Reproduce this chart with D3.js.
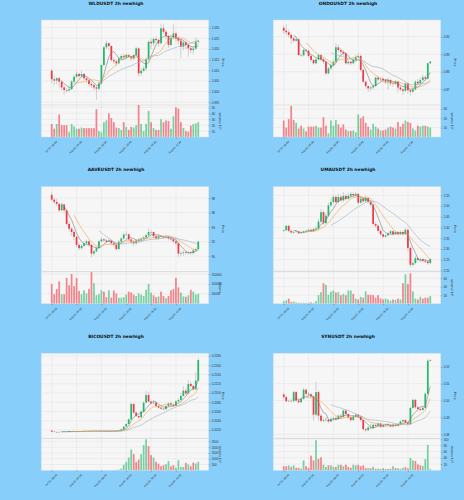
<!DOCTYPE html>
<html>
<head>
<meta charset="utf-8">
<script src="https://cdn.jsdelivr.net/npm/d3@7"></script>
<style>
  body { margin: 0; background: #87cefa; }
  svg { display: block; font-family: "DejaVu Sans", sans-serif; }
</style>
</head>
<body>
<div id="chart"></div>
<script>
// 2h candles, open of each candle = close of the one before
var xLabels = ["Jul 31, 08:00", "Aug 01, 04:00", "Aug 02, 00:00", "Aug 02, 20:00", "Aug 03, 16:00", "Aug 04, 12:00"];
var xTickIdx = [0, 10, 20, 30, 40, 50];

// WLDUSDT
var wldOpen0 = 1.0098;
var wldClose = [1.0058,1.0052,1.0063,1.0047,1.0020,1.0008,1.0005,1.0011,1.0047,1.0070,
  1.0083,1.0073,1.0083,1.0063,1.0055,1.0036,1.0030,1.0020,1.0014,1.0039,
  1.0125,1.0208,1.0227,1.0214,1.0148,1.0142,1.0133,1.0155,1.0167,1.0161,
  1.0172,1.0164,1.0156,1.0172,1.0203,1.0086,1.0098,1.0109,1.0152,1.0234,
  1.0227,1.0247,1.0242,1.0227,1.0297,1.0281,1.0261,1.0219,1.0253,1.0273,
  1.0250,1.0239,1.0211,1.0231,1.0219,1.0203,1.0195,1.0202,1.0234,1.0239];
var wldHigh = [1.0108,1.0075,1.0068,1.0070,1.0055,1.0028,1.0015,1.0030,1.0055,1.0078,
  1.0095,1.0090,1.0098,1.0088,1.0070,1.0060,1.0045,1.0038,1.0030,1.0045,
  1.0130,1.0215,1.0240,1.0232,1.0218,1.0160,1.0150,1.0162,1.0175,1.0178,
  1.0180,1.0178,1.0170,1.0178,1.0212,1.0208,1.0110,1.0120,1.0160,1.0240,
  1.0248,1.0255,1.0258,1.0250,1.0318,1.0315,1.0290,1.0268,1.0262,1.0315,
  1.0282,1.0260,1.0248,1.0240,1.0238,1.0225,1.0212,1.0210,1.0255,1.0245];
var wldLow = [1.0040,1.0030,1.0035,1.0015,1.0005,0.9985,0.9995,1.0000,1.0008,1.0040,
  1.0062,1.0065,1.0068,1.0055,1.0040,1.0025,1.0018,1.0005,0.9962,1.0005,
  1.0030,1.0118,1.0200,1.0195,1.0140,1.0130,1.0120,1.0128,1.0150,1.0150,
  1.0155,1.0158,1.0145,1.0150,1.0165,1.0070,1.0075,1.0090,1.0100,1.0145,
  1.0200,1.0215,1.0225,1.0210,1.0220,1.0270,1.0245,1.0205,1.0212,1.0245,
  1.0235,1.0220,1.0158,1.0195,1.0200,1.0165,1.0180,1.0175,1.0195,1.0228];
var wldVol = [22,14,22,38,20,20,20,8,22,18,14,14,16,15,15,15,15,15,47,10,
  8,25,28,40,32,25,16,15,12,25,17,12,17,16,20,54,22,10,22,44,
  25,15,12,12,30,25,28,27,14,35,50,48,25,15,10,9,19,22,23,25];

// ONDOUSDT
var ondoOpen0 = 0.9050;
var ondoClose = [0.9034,0.9025,0.9010,0.8990,0.8977,0.8985,0.8895,0.8893,0.8924,0.8920,
  0.8890,0.8867,0.8848,0.8870,0.8895,0.8870,0.8857,0.8790,0.8819,0.8838,
  0.8857,0.8939,0.8924,0.8914,0.8905,0.8848,0.8857,0.8848,0.8867,0.8882,
  0.8890,0.8810,0.8743,0.8718,0.8705,0.8710,0.8718,0.8766,0.8756,0.8760,
  0.8752,0.8743,0.8752,0.8733,0.8730,0.8743,0.8710,0.8699,0.8691,0.8733,
  0.8695,0.8686,0.8699,0.8743,0.8733,0.8752,0.8768,0.8760,0.8848,0.8857];
var ondoHigh = [0.9062,0.9070,0.9040,0.9020,0.9000,0.8995,0.8990,0.8905,0.8930,0.8930,
  0.8925,0.8895,0.8875,0.8878,0.8902,0.8900,0.8878,0.8862,0.8825,0.8848,
  0.8868,0.8962,0.8955,0.8935,0.8925,0.8910,0.8865,0.8862,0.8875,0.8895,
  0.8905,0.8898,0.8815,0.8748,0.8722,0.8720,0.8730,0.8772,0.8775,0.8770,
  0.8768,0.8760,0.8765,0.8760,0.8745,0.8752,0.8748,0.8718,0.8705,0.8740,
  0.8738,0.8700,0.8710,0.8752,0.8760,0.8770,0.8785,0.8778,0.8852,0.8862];
var ondoLow = [0.9015,0.9010,0.8995,0.8960,0.8965,0.8970,0.8890,0.8885,0.8888,0.8905,
  0.8880,0.8855,0.8840,0.8842,0.8865,0.8860,0.8845,0.8780,0.8785,0.8810,
  0.8830,0.8850,0.8910,0.8900,0.8890,0.8840,0.8840,0.8838,0.8842,0.8860,
  0.8875,0.8800,0.8735,0.8705,0.8685,0.8690,0.8700,0.8712,0.8745,0.8745,
  0.8740,0.8730,0.8700,0.8720,0.8715,0.8722,0.8680,0.8690,0.8670,0.8685,
  0.8675,0.8665,0.8680,0.8692,0.8720,0.8728,0.8745,0.8748,0.8755,0.8845];
var ondoVol = [17.5,10,19,33,18,15,9,12,9,6,11,11,11,12,10,10,21,12,4,17.5,
  12,18,13.5,10,13.5,8,6.5,6.5,7,5,24,20,22,15,11,8,14,11,9,7,
  7,8,10,11,10,9,16,11,14,17.5,16,15,9,7,12,11,12,12,11,10];

// AAVEUSDT
var aaveOpen0 = 98.44;
var aaveClose = [97.78,97.47,97.20,96.31,97.11,96.31,94.44,93.78,93.33,92.67,
  91.56,91.11,91.42,91.78,92.04,91.56,90.36,90.67,91.11,92.04,
  92.31,92.18,92.00,92.13,91.78,91.56,90.98,92.00,92.44,92.98,
  93.02,92.31,92.00,91.78,92.13,92.31,92.44,92.58,92.89,93.33,
  93.33,92.76,92.44,92.76,92.67,92.58,92.67,92.44,92.31,92.04,
  91.78,90.36,90.44,90.53,90.44,90.53,90.44,90.80,90.98,92.00];
var aaveHigh = [98.80,98.10,97.90,97.40,97.30,97.20,96.40,94.80,94.00,93.60,
  92.80,91.80,91.70,92.00,92.30,92.20,91.70,90.90,91.30,92.20,
  92.60,92.50,92.40,92.40,92.30,91.90,91.70,92.20,92.60,93.20,
  93.40,93.10,92.40,92.10,92.30,92.50,92.60,92.80,93.10,93.80,
  93.60,93.40,92.90,93.00,92.90,92.80,92.90,92.80,92.60,92.40,
  92.20,91.90,90.70,90.80,90.70,90.70,90.70,91.00,91.20,92.10];
var aaveLow = [97.60,97.20,96.90,96.10,96.20,96.00,94.20,93.40,92.80,92.20,
  91.20,90.80,90.90,91.20,91.60,91.30,89.80,90.10,90.50,91.00,
  91.90,92.00,91.80,91.90,91.60,91.30,90.80,90.90,91.80,92.30,
  92.80,92.10,91.60,91.40,91.60,92.00,92.20,92.30,92.40,92.70,
  93.00,92.50,92.20,92.30,92.50,92.40,92.40,92.20,92.10,91.80,
  91.50,89.90,90.00,90.10,90.20,90.20,90.20,90.20,90.60,90.90];
var aaveVol = [100000,48000,74000,113000,48000,48000,131000,94000,150000,89000,
  131000,65000,48000,68000,52000,74000,160000,104000,43000,48000,
  68000,61000,33000,68000,31000,67000,52000,30000,30000,33000,
  46000,61000,57000,46000,39000,52000,46000,39000,70000,100000,
  56000,43000,33000,37000,61000,39000,28000,39000,68000,74000,
  131000,83000,56000,37000,35000,43000,70000,61000,46000,50000];

// UMAUSDT
var umaOpen0 = 2.384;
var umaClose = [2.387,2.408,2.384,2.376,2.379,2.381,2.373,2.376,2.381,2.384,
  2.389,2.384,2.392,2.395,2.427,2.471,2.420,2.455,2.503,2.518,
  2.542,2.518,2.542,2.526,2.547,2.534,2.547,2.556,2.550,2.556,
  2.515,2.534,2.522,2.537,2.518,2.506,2.416,2.408,2.384,2.368,
  2.357,2.363,2.373,2.382,2.368,2.379,2.368,2.379,2.368,2.389,
  2.305,2.226,2.234,2.257,2.249,2.253,2.245,2.241,2.234,2.253];
var umaHigh = [2.392,2.410,2.410,2.388,2.384,2.386,2.384,2.380,2.386,2.390,
  2.395,2.394,2.398,2.405,2.440,2.485,2.480,2.468,2.515,2.535,
  2.552,2.550,2.556,2.552,2.565,2.556,2.562,2.566,2.562,2.565,
  2.560,2.545,2.545,2.550,2.542,2.525,2.510,2.425,2.415,2.390,
  2.372,2.368,2.378,2.388,2.386,2.384,2.383,2.385,2.384,2.396,
  2.394,2.310,2.245,2.268,2.262,2.260,2.258,2.252,2.246,2.258];
var umaLow = [2.378,2.383,2.378,2.372,2.372,2.375,2.369,2.370,2.372,2.378,
  2.380,2.380,2.380,2.388,2.390,2.420,2.412,2.415,2.448,2.495,
  2.510,2.510,2.512,2.518,2.520,2.526,2.528,2.540,2.540,2.542,
  2.505,2.510,2.515,2.518,2.510,2.495,2.405,2.398,2.375,2.360,
  2.350,2.352,2.360,2.368,2.362,2.365,2.362,2.364,2.362,2.365,
  2.290,2.215,2.218,2.228,2.240,2.242,2.238,2.234,2.226,2.230];
var umaVol = [6,8,12,4,5,3,2,2,2,2,2,3,2,6,20,27,48,44,21,28,
  31,26,27,20,23,20,31,31,23,12,10,16,14,29,21,21,20,14,20,12,
  10,12,10,7,10,9,12,10,48,69,46,71,29,12,10,16,12,14,14,18];

// BICOUSDT
var bicoOpen0 = 0.20186;
var bicoClose = [0.20164,0.20157,0.20150,0.20157,0.20164,0.20171,0.20171,0.20157,0.20164,0.20171,
  0.20171,0.20171,0.20171,0.20178,0.20178,0.20178,0.20178,0.20178,0.20178,0.20178,
  0.20178,0.20171,0.20178,0.20178,0.20178,0.20178,0.20178,0.20186,0.20214,0.20272,
  0.20330,0.20431,0.20762,0.20575,0.20503,0.20474,0.20596,0.20791,0.20957,0.20813,
  0.20777,0.20791,0.20719,0.20683,0.20661,0.20647,0.20719,0.20777,0.20748,0.20719,
  0.20820,0.20849,0.20935,0.21050,0.20990,0.21195,0.21151,0.21079,0.21267,0.21713];
var bicoHigh = [0.20195,0.20170,0.20162,0.20165,0.20170,0.20178,0.20178,0.20175,0.20170,0.20178,
  0.20176,0.20176,0.20178,0.20183,0.20183,0.20185,0.20183,0.20183,0.20185,0.20183,
  0.20183,0.20183,0.20183,0.20183,0.20183,0.20185,0.20183,0.20192,0.20225,0.20285,
  0.20345,0.20450,0.20800,0.20780,0.20600,0.20520,0.20620,0.20820,0.21050,0.21020,
  0.20840,0.20830,0.20800,0.20740,0.20700,0.20680,0.20730,0.20800,0.20820,0.20770,
  0.20850,0.20880,0.21000,0.21150,0.21100,0.21280,0.21250,0.21170,0.21450,0.21760];
var bicoLow = [0.20155,0.20150,0.20143,0.20145,0.20152,0.20160,0.20164,0.20150,0.20152,0.20160,
  0.20166,0.20166,0.20166,0.20168,0.20173,0.20173,0.20173,0.20173,0.20173,0.20173,
  0.20173,0.20166,0.20168,0.20173,0.20173,0.20173,0.20173,0.20175,0.20180,0.20205,
  0.20265,0.20320,0.20420,0.20550,0.20480,0.20450,0.20465,0.20580,0.20770,0.20790,
  0.20750,0.20760,0.20700,0.20660,0.20640,0.20630,0.20640,0.20700,0.20730,0.20700,
  0.20710,0.20800,0.20830,0.20920,0.20960,0.20980,0.21120,0.21050,0.21060,0.21250];
var bicoVol = [5,3,2,3,2,2,3,2,2,3,2,2,2,2,3,2,2,2,3,2,
  2,2,3,2,5,8,30,60,150,470,730,1100,1800,1400,730,930,1400,2180,2670,2090,
  1310,1100,730,580,350,440,520,790,350,440,230,870,290,290,640,500,350,670,580,730];

// SYNUSDT
var synOpen0 = 0.5036;
var synClose = [0.5020,0.4996,0.4998,0.4996,0.5050,0.5000,0.4990,0.5010,0.5064,0.5040,
  0.5036,0.5024,0.4916,0.5050,0.4910,0.4880,0.4884,0.4886,0.4876,0.4890,
  0.4896,0.4890,0.4910,0.4904,0.4940,0.4920,0.4900,0.4884,0.4904,0.4916,
  0.4904,0.4884,0.4830,0.4824,0.4840,0.4836,0.4856,0.4850,0.4864,0.4844,
  0.4856,0.4860,0.4856,0.4846,0.4856,0.4850,0.4860,0.4876,0.4884,0.4870,
  0.4860,0.4956,0.5004,0.4960,0.4950,0.4944,0.4956,0.5040,0.5236,0.5240];
var synHigh = [0.5045,0.5030,0.5005,0.5010,0.5058,0.5056,0.5008,0.5018,0.5075,0.5070,
  0.5050,0.5045,0.5030,0.5110,0.5060,0.4920,0.4895,0.4900,0.4892,0.4900,
  0.4905,0.4905,0.4918,0.4920,0.4948,0.4945,0.4925,0.4905,0.4912,0.4925,
  0.4920,0.4910,0.4890,0.4838,0.4848,0.4865,0.4862,0.4862,0.4872,0.4868,
  0.4862,0.4866,0.4866,0.4862,0.4862,0.4860,0.4866,0.4882,0.4890,0.4890,
  0.4876,0.4965,0.5012,0.5010,0.4968,0.4958,0.4965,0.5050,0.5245,0.5246];
var synLow = [0.5010,0.4990,0.4990,0.4988,0.4990,0.4992,0.4982,0.4985,0.5005,0.5030,
  0.5025,0.5010,0.4880,0.4905,0.4880,0.4870,0.4872,0.4875,0.4865,0.4870,
  0.4882,0.4880,0.4885,0.4895,0.4898,0.4910,0.4890,0.4875,0.4878,0.4898,
  0.4895,0.4875,0.4820,0.4812,0.4818,0.4828,0.4830,0.4842,0.4845,0.4838,
  0.4840,0.4850,0.4850,0.4840,0.4842,0.4844,0.4846,0.4855,0.4870,0.4865,
  0.4855,0.4855,0.4950,0.4952,0.4940,0.4935,0.4938,0.4950,0.5035,0.5230];
var synVol = [13,13,16,11,16,8,8,5,32,13,8,47,32,97,37,42,18,11,16,16,
  11,11,18,18,13,18,11,8,18,16,18,13,16,7,7,7,11,5,5,4,
  7,5,4,5,13,7,7,5,8,10,6,40,32,30,19,16,14,36,82,4];

// panel setup (layout + axis ticks per symbol)
var panels = [
  {title: "WLDUSDT 2h newhigh", col: 0, row: 0, open0: wldOpen0, close: wldClose, high: wldHigh, low: wldLow, vol: wldVol,
   yDom: [0.99375, 1.0336], yTicks: [0.995,1.000,1.005,1.010,1.015,1.020,1.025,1.030], yFmt: ".3f",
   vMax: 54, vTicks: [10,20,30,40,50], vLabel: "Volume  10\u2075"},
  {title: "ONDOUSDT 2h newhigh", col: 1, row: 0, open0: ondoOpen0, close: ondoClose, high: ondoHigh, low: ondoLow, vol: ondoVol,
   yDom: [0.8610, 0.9095], yTicks: [0.87,0.88,0.89,0.90], yFmt: ".2f",
   vMax: 34, vTicks: [10,20,30], vLabel: "Volume  10\u2076"},
  {title: "AAVEUSDT 2h newhigh", col: 0, row: 1, open0: aaveOpen0, close: aaveClose, high: aaveHigh, low: aaveLow, vol: aaveVol,
   yDom: [87.87, 99.56], yTicks: [90,92,94,96,98], yFmt: "d",
   vMax: 162000, vTicks: [50000,100000,150000], vLabel: "Volume"},
  {title: "UMAUSDT 2h newhigh", col: 1, row: 1, open0: umaOpen0, close: umaClose, high: umaHigh, low: umaLow, vol: umaVol,
   yDom: [2.194, 2.5896], yTicks: [2.20,2.25,2.30,2.35,2.40,2.45,2.50,2.55], yFmt: ".2f",
   vMax: 75, vTicks: [20,40,60], vLabel: "Volume  10\u2074"},
  {title: "BICOUSDT 2h newhigh", col: 0, row: 2, open0: bicoOpen0, close: bicoClose, high: bicoHigh, low: bicoLow, vol: bicoVol,
   yDom: [0.20020, 0.21858], yTicks: [0.2020,0.2040,0.2060,0.2080,0.2100,0.2120,0.2140,0.2160,0.2180], yFmt: ".4f",
   vMax: 2760, vTicks: [500,1000,1500,2000,2500], vLabel: "Volume  10\u00b3"},
  {title: "SYNUSDT 2h newhigh", col: 1, row: 2, open0: synOpen0, close: synClose, high: synHigh, low: synLow, vol: synVol,
   yDom: [0.4776, 0.528], yTicks: [0.48,0.49,0.50,0.51,0.52], yFmt: ".2f",
   vMax: 103, vTicks: [20,40,60,80,100], vLabel: "Volume  10\u00b3"}
];

var W = 464, H = 500;
var colX = [41.3, 273.3], rowY = [20, 186.7, 353.3], titleY = [4.5, 171, 337.5], figMid = [116, 348];
var plotW = 167.4, priceH = 85, volH = 32;
var upCol = "#26b86c", downCol = "#f03a46";
var maCols = ["#7a7a7a", "#f2a04e", "#9aaebd"], maWins = [5, 10, 20];

var svg = d3.select("#chart").append("svg").attr("width", W).attr("height", H);

function sma(arr, n) {
  return arr.map(function(d, i) { return i < n - 1 ? null : d3.mean(arr.slice(i - n + 1, i + 1)); });
}

panels.forEach(function(p) {
  var x0 = colX[p.col], y0 = rowY[p.row];
  var data = p.close.map(function(c, i) {
    return {i: i, o: i === 0 ? p.open0 : p.close[i - 1], c: c, h: p.high[i], l: p.low[i], v: p.vol[i]};
  });

  svg.append("text").attr("x", figMid[p.col]).attr("y", titleY[p.row])
    .attr("text-anchor", "middle").attr("font-size", 4.4).attr("font-weight", "bold").attr("fill", "#111")
    .text(p.title);

  var g = svg.append("g").attr("transform", "translate(" + x0 + "," + y0 + ")");
  var x = d3.scaleLinear().domain([-4.2, 63.2]).range([0, plotW]);
  var y = d3.scaleLinear().domain(p.yDom).range([priceH, 0]);
  var yv = d3.scaleLinear().domain([0, p.vMax]).range([priceH + volH, priceH]);
  var step = x(1) - x(0);

  // backgrounds
  g.append("rect").attr("width", plotW).attr("height", priceH).attr("fill", "#f6f6f6");
  g.append("rect").attr("y", priceH).attr("width", plotW).attr("height", volH).attr("fill", "#f6f6f6");

  // grid
  g.selectAll(".vg").data(xTickIdx).enter().append("line")
    .attr("x1", function(d) { return x(d); }).attr("x2", function(d) { return x(d); })
    .attr("y1", 0).attr("y2", priceH + volH).attr("stroke", "#dedede").attr("stroke-width", 0.4);
  g.selectAll(".hg").data(p.yTicks).enter().append("line")
    .attr("x1", 0).attr("x2", plotW).attr("y1", function(d) { return y(d); }).attr("y2", function(d) { return y(d); })
    .attr("stroke", "#dedede").attr("stroke-width", 0.4);
  g.selectAll(".hvg").data(p.vTicks).enter().append("line")
    .attr("x1", 0).attr("x2", plotW).attr("y1", function(d) { return yv(d); }).attr("y2", function(d) { return yv(d); })
    .attr("stroke", "#dedede").attr("stroke-width", 0.4);
  g.append("line").attr("x1", 0).attr("x2", plotW).attr("y1", priceH).attr("y2", priceH)
    .attr("stroke", "#cfcfcf").attr("stroke-width", 0.5);

  // volume bars
  g.selectAll(".vb").data(data).enter().append("rect")
    .attr("x", function(d) { return x(d.i) - step * 0.35; })
    .attr("width", step * 0.7)
    .attr("y", function(d) { return yv(d.v); })
    .attr("height", function(d) { return yv(0) - yv(d.v); })
    .attr("fill", function(d) { return d.c >= d.o ? upCol : downCol; })
    .attr("opacity", 0.6);

  // wicks
  g.selectAll(".wk").data(data).enter().append("line")
    .attr("x1", function(d) { return x(d.i); }).attr("x2", function(d) { return x(d.i); })
    .attr("y1", function(d) { return y(d.h); }).attr("y2", function(d) { return y(d.l); })
    .attr("stroke", "#a8a8a8").attr("stroke-width", 0.5);

  // bodies
  g.selectAll(".bd").data(data).enter().append("rect")
    .attr("x", function(d) { return x(d.i) - step * 0.35; })
    .attr("width", step * 0.7)
    .attr("y", function(d) { return y(Math.max(d.o, d.c)); })
    .attr("height", function(d) { return Math.max(0.4, Math.abs(y(d.o) - y(d.c))); })
    .attr("fill", function(d) { return d.c >= d.o ? upCol : downCol; });

  // moving averages
  maWins.forEach(function(n, k) {
    var m = sma(p.close, n);
    var line = d3.line().defined(function(d) { return d !== null; })
      .x(function(d, i) { return x(i); }).y(function(d) { return y(d); });
    g.append("path").datum(m).attr("d", line).attr("fill", "none")
      .attr("stroke", maCols[k]).attr("stroke-width", 0.6);
  });

  // right axes
  var ya = g.append("g").attr("transform", "translate(" + plotW + ",0)")
    .call(d3.axisRight(y).tickValues(p.yTicks).tickFormat(d3.format(p.yFmt)).tickSize(1.5).tickPadding(1.5));
  var va = g.append("g").attr("transform", "translate(" + plotW + ",0)")
    .call(d3.axisRight(yv).tickValues(p.vTicks).tickFormat(d3.format("d")).tickSize(1.5).tickPadding(1.5));
  [ya, va].forEach(function(a) {
    a.select(".domain").remove();
    a.selectAll("line").attr("stroke", "#555").attr("stroke-width", 0.4);
    a.selectAll("text").attr("font-size", 3).attr("fill", "#333");
  });

  g.append("text").attr("transform", "translate(" + (plotW + 13) + "," + (priceH / 2) + ") rotate(90)")
    .attr("text-anchor", "middle").attr("font-size", 3.2).attr("fill", "#333").text("Price");
  g.append("text").attr("transform", "translate(" + (plotW + 10) + "," + (priceH + volH / 2) + ") rotate(90)")
    .attr("text-anchor", "middle").attr("font-size", 3).attr("fill", "#333").text(p.vLabel);

  // bottom axis
  var xa = g.append("g").attr("transform", "translate(0," + (priceH + volH) + ")")
    .call(d3.axisBottom(x).tickValues(xTickIdx).tickFormat(function(d, i) { return xLabels[i]; }).tickSize(1.5));
  xa.select(".domain").remove();
  xa.selectAll("line").attr("stroke", "#555").attr("stroke-width", 0.4);
  xa.selectAll("text").attr("font-size", 2.7).attr("fill", "#333")
    .attr("text-anchor", "end").attr("dy", 0).attr("y", 0)
    .attr("transform", "translate(5,5) rotate(-45)");

  // frame
  g.append("rect").attr("width", plotW).attr("height", priceH + volH)
    .attr("fill", "none").attr("stroke", "#e2e2e2").attr("stroke-width", 0.4);
});
</script>
</body>
</html>
